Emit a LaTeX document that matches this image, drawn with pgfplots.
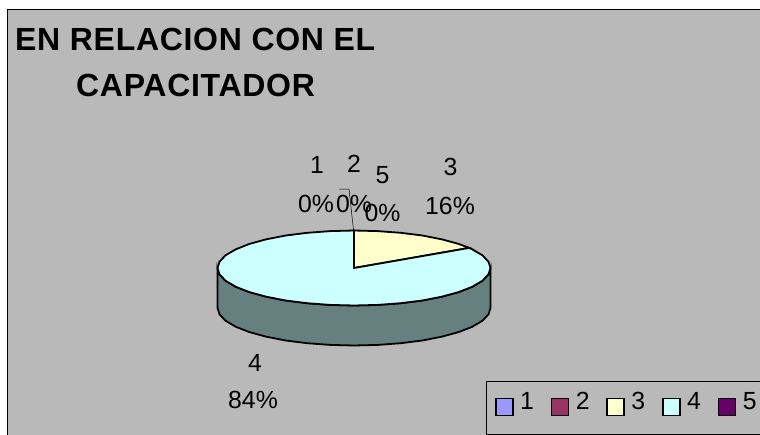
\documentclass[border=0pt]{standalone}
\usepackage{fontspec}
\setmainfont{Liberation Sans}
\usepackage{pgfplots}
\pgfplotsset{compat=1.18}
\definecolor{bgc}{HTML}{B9B9B9}
\definecolor{cA}{HTML}{9999FF}
\definecolor{cB}{HTML}{993366}
\definecolor{cC}{HTML}{FFFFCC}
\definecolor{cD}{HTML}{CCFFFF}
\definecolor{cE}{HTML}{660066}
\definecolor{cS}{HTML}{668080}
\newcommand{\lab}{\fontsize{24.8}{26}\selectfont}
\newcommand{\ttl}{\fontsize{32}{34}\selectfont\bfseries\addfontfeature{LetterSpace=2.2}}
\newcommand{\ent}[1]{\raisebox{1pt}[0pt][0pt]{#1}}
\begin{document}
\begin{tikzpicture}[x=1pt,y=1pt]
\useasboundingbox (0,0) rectangle (760,434);
\begin{axis}[
  at={(0,0)},anchor=south west,
  scale only axis,width=760pt,height=434pt,
  xmin=0,xmax=760,ymin=0,ymax=434,y dir=reverse,
  hide axis,clip=false,
  legend columns=5,
  legend cell align=left,
  legend image code/.code={\path[draw=none,fill=none] (0pt,-17pt) -- (0pt,24pt);\draw[#1,draw=black,line width=1.6pt] (0pt,-4.5pt) rectangle (17pt,12.5pt);},
  legend style={at={(axis cs:485.5,380.5)},anchor=north west,draw=black,line width=1pt,fill=bgc,
    font=\lab,inner xsep=9pt,inner ysep=6pt,
    /tikz/every even column/.append style={column sep=14.8pt},
    /tikz/every odd column/.append style={column sep=4.5pt}},
]
% chart area
\addplot[forget plot,fill=white,draw=none] coordinates {(0,0)(760,0)(760,434)(0,434)} \closedcycle;
\addplot[forget plot,fill=bgc,draw=black,line width=1pt] coordinates {(7.5,9.5)(780,9.5)(780,450)(7.5,450)} -- cycle;
% side wall of the pie
\addplot[forget plot,fill=cS,draw=black,line width=1.8pt] coordinates {
(490.5,268)(488.4,274.5)(482.3,280.8)(472.2,286.8)(458.6,292.1)(441.7,296.7)(422.3,300.5)(400.7,303.2)(377.7,304.9)(354,305.5)(330.3,304.9)(307.3,303.2)(285.7,300.5)(266.3,296.7)(249.4,292.1)(235.8,286.8)(225.7,280.8)(219.6,274.5)(217.5,268)
(217.5,308)(219.6,314.5)(225.7,320.8)(235.8,326.8)(249.4,332.1)(266.3,336.7)(285.7,340.5)(307.3,343.2)(330.3,344.9)(354,345.5)(377.7,344.9)(400.7,343.2)(422.3,340.5)(441.7,336.7)(458.6,332.1)(472.2,326.8)(482.3,320.8)(488.4,314.5)(490.5,308)} -- cycle;
% slice 1: 0 %
\addplot[fill=cA,draw=black,line width=1.8pt] coordinates {(354,268)(354,230.5)} -- cycle;
\addlegendentry{\ent{1}}
% slice 2: 0 %
\addplot[fill=cB,draw=black,line width=1.8pt] coordinates {(354,268)(354,230.5)} -- cycle;
\addlegendentry{\ent{2}}
% slice 3: 16 %
\addplot[fill=cC,draw=black,line width=1.8pt] coordinates {(354,268)(354,230.5)(377.7,231.1)(400.7,232.8)(422.3,235.5)(441.7,239.3)(458.6,243.9)(469.2,247.9)} -- cycle;
\addlegendentry{\ent{3}}
% slice 4: 84 %
\addplot[fill=cD,draw=black,line width=1.8pt] coordinates {(354,268)(469.2,247.9)(472.2,249.3)(482.3,255.2)(488.4,261.5)(490.5,268)(488.4,274.5)(482.3,280.8)(472.2,286.8)(458.6,292.1)(441.7,296.7)(422.3,300.5)(400.7,303.2)(377.7,304.9)(354,305.5)(330.3,304.9)(307.3,303.2)(285.7,300.5)(266.3,296.7)(249.4,292.1)(235.8,286.8)(225.7,280.8)(219.6,274.5)(217.5,268)(219.6,261.5)(225.7,255.2)(235.8,249.3)(249.4,243.9)(266.3,239.3)(285.7,235.5)(307.3,232.8)(330.3,231.1)(354,230.5)} -- cycle;
\addlegendentry{\ent{4}}
% slice 5: 0 %
\addplot[fill=cE,draw=black,line width=2.6pt] coordinates {(354,268)(354,230.5)} -- cycle;
\addlegendentry{\ent{5}}
% leader line
\addplot[forget plot,draw=black,line width=0.5pt] coordinates {(353.5,230)(349,189)(339,189)};
% title
\node[anchor=base west,inner sep=0pt,font=\ttl] at (axis cs:15,50) {EN RELACION CON EL};
\node[anchor=base west,inner sep=0pt,font=\ttl] at (axis cs:76,96) {CAPACITADOR};
% data labels
\node[anchor=base,inner sep=0pt,font=\lab] at (axis cs:317,173) {1};
\node[anchor=base,inner sep=0pt,font=\lab] at (axis cs:316,212) {0\%};
\node[anchor=base,inner sep=0pt,font=\lab] at (axis cs:354,172) {2};
\node[anchor=base,inner sep=0pt,font=\lab] at (axis cs:354,212) {0\%};
\node[anchor=base,inner sep=0pt,font=\lab] at (axis cs:382.5,183) {5};
\node[anchor=base,inner sep=0pt,font=\lab] at (axis cs:382.5,221) {0\%};
\node[anchor=base,inner sep=0pt,font=\lab] at (axis cs:450.5,175) {3};
\node[anchor=base,inner sep=0pt,font=\lab] at (axis cs:450,214) {16\%};
\node[anchor=base,inner sep=0pt,font=\lab] at (axis cs:255,371) {4};
\node[anchor=base,inner sep=0pt,font=\lab] at (axis cs:253,408) {84\%};
\end{axis}
\end{tikzpicture}
\end{document}
